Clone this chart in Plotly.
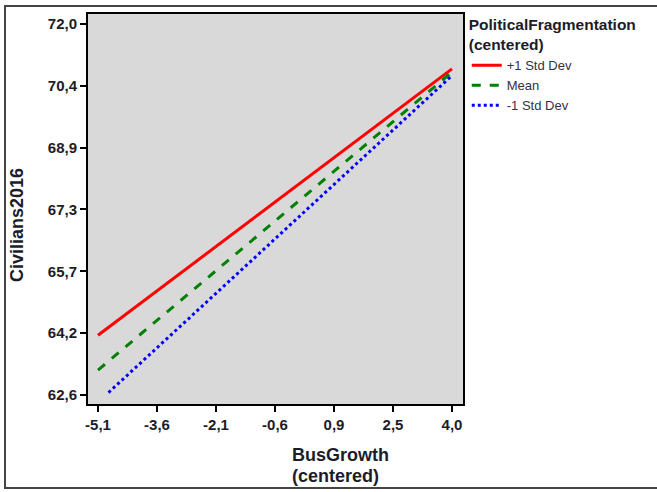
import plotly.graph_objects as go

# Data
series_names = ["+1 Std Dev", "Mean", "-1 Std Dev"]
x_plus = [-5.1, 4.0]
y_plus = [64.11, 70.86]
x_mean = [-5.1, 4.0]
y_mean = [63.23, 70.78]
x_minus = [-4.83, 4.0]
y_minus = [62.66, 70.69]

x_tickvals = [-5.1, -3.583, -2.067, -0.55, 0.967, 2.483, 4.0]
x_ticktext = ["-5,1", "-3,6", "-2,1", "-0,6", "0,9", "2,5", "4,0"]
y_tickvals = [62.6, 64.167, 65.733, 67.3, 68.867, 70.433, 72.0]
y_ticktext = ["62,6", "64,2", "65,7", "67,3", "68,9", "70,4", "72,0"]

font = "Liberation Sans, Arial, sans-serif"
txt = "#1c1c2a"

fig = go.Figure()
fig.add_trace(go.Scatter(x=x_plus, y=y_plus, mode="lines", name=series_names[0],
                         line=dict(color="#ff0000", width=3, dash="solid")))
fig.add_trace(go.Scatter(x=x_mean, y=y_mean, mode="lines", name=series_names[1],
                         line=dict(color="#008000", width=3, dash="dash")))
fig.add_trace(go.Scatter(x=x_minus, y=y_minus, mode="lines", name=series_names[2],
                         line=dict(color="#0000ff", width=3, dash="dot")))

fig.update_layout(
    width=657, height=492,
    margin=dict(l=88, r=194, t=10, b=88),
    paper_bgcolor="white",
    plot_bgcolor="#d9d9d9",
    font=dict(family=font, color=txt),
    showlegend=True,
    legend=dict(
        title=dict(text="<b>PoliticalFragmentation<br>(centered)</b>",
                   font=dict(size=15.5, family=font, color=txt)),
        font=dict(size=13, family=font, color="#333344"),
        x=1.01, y=1.01, xanchor="left", yanchor="top",
        bgcolor="rgba(0,0,0,0)", itemwidth=30, tracegroupgap=0,
    ),
    xaxis=dict(
        range=[-5.357, 4.283], tickvals=x_tickvals, ticktext=x_ticktext,
        showgrid=False, zeroline=False, showline=True, mirror=True,
        linecolor="black", linewidth=2, ticks="outside", ticklen=6, tickwidth=2,
        tickcolor="black", tickfont=dict(size=15, family=font, color=txt, weight="bold"),
    ),
    yaxis=dict(
        range=[62.37, 72.25], tickvals=y_tickvals, ticktext=y_ticktext,
        showgrid=False, zeroline=False, showline=True, mirror=True,
        linecolor="black", linewidth=2, ticks="outside", ticklen=6, tickwidth=2,
        tickcolor="black", tickfont=dict(size=15, family=font, color=txt, weight="bold"),
    ),
)

fig.add_annotation(text="<b>Civilians2016</b>", xref="paper", yref="paper",
                   x=-0.189, y=0.459, textangle=-90, showarrow=False,
                   font=dict(size=18, family=font, color=txt),
                   xanchor="center", yanchor="middle")
fig.add_annotation(text="<b>BusGrowth</b>", xref="paper", yref="paper",
                   x=0.539, y=-0.101, showarrow=False, align="left",
                   font=dict(size=18, family=font, color=txt),
                   xanchor="left", yanchor="top")
fig.add_annotation(text="<b>(centered)</b>", xref="paper", yref="paper",
                   x=0.539, y=-0.155, showarrow=False, align="left",
                   font=dict(size=18, family=font, color=txt),
                   xanchor="left", yanchor="top")

fig.add_shape(type="rect", xref="paper", yref="paper",
              x0=-0.2213, x1=1.7, y0=-0.2157, y1=1.0203,
              line=dict(color="#444444", width=2), layer="below")

fig.write_html("out.html")
